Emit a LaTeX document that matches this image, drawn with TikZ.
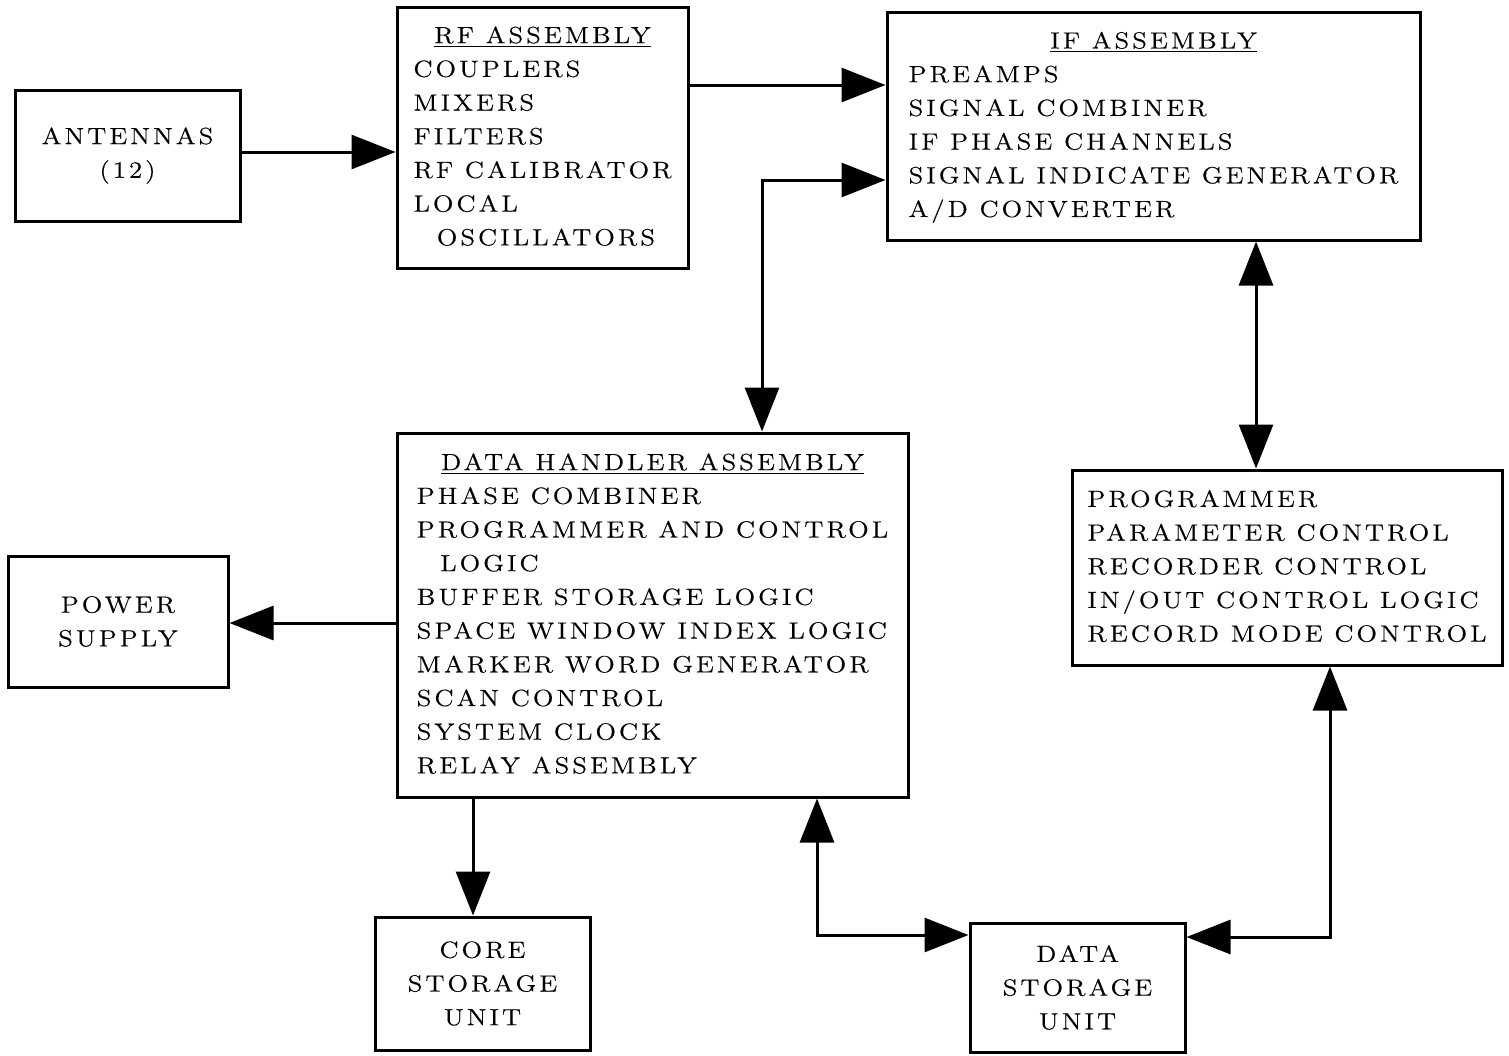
\documentclass[tikz,border=0pt]{standalone}
\usepackage{fontspec}
\setmainfont{Latin Modern Roman}[LetterSpace=13,FakeStretch=1.15,FakeBold=0.4]
\usetikzlibrary{arrows.meta}
% centred, underlined heading row of a block list
\newcommand{\blkhead}[1]{\multicolumn{1}{@{}c@{}}{\underline{#1}}}
\tikzset{
  blk/.style={draw, line width=1.5pt, align=center, inner sep=0pt,
    font=\fontsize{11.7}{16.85}\selectfont},
  arr/.style={line width=1.5pt, -{Triangle[length=22pt,width=17pt]}},
  dbl/.style={line width=1.5pt,
    {Triangle[length=22pt,width=17pt]}-{Triangle[length=22pt,width=17pt]}},
}
\begin{document}
\begin{tikzpicture}[x=0.5pt,y=-0.5pt]
\fill[white] (0,0) rectangle (1509,1055);
\useasboundingbox (0,0) rectangle (1509,1055);
% top row of blocks
\node[blk, minimum width=112.5pt, minimum height=65.5pt] (ant) at (127.5,155.5)
  {ANTENNAS\\(12)};
\node[blk, minimum width=145.5pt, minimum height=130.5pt] (rf) at (542.5,137.5)
  {\begin{tabular}{@{}l@{}}
   \blkhead{RF ASSEMBLY}\\
   COUPLERS\\ MIXERS\\ FILTERS\\ RF CALIBRATOR\\ LOCAL\\
   \hspace*{1em}OSCILLATORS
   \end{tabular}};
\node[blk, minimum width=266.5pt, minimum height=114pt] (if) at (1153.5,126)
  {\begin{tabular}{@{}l@{}}
   \blkhead{IF ASSEMBLY}\\
   PREAMPS\\ SIGNAL COMBINER\\ IF PHASE CHANNELS\\
   SIGNAL INDICATE GENERATOR\\ A/D CONVERTER
   \end{tabular}};
% middle row of blocks
\node[blk, minimum width=110pt, minimum height=65.5pt] (pwr) at (118,621.5)
  {POWER\\SUPPLY};
\node[blk, minimum width=255.5pt, minimum height=182pt] (dh) at (652.5,615)
  {\begin{tabular}{@{}l@{}}
   \blkhead{DATA HANDLER ASSEMBLY}\\
   PHASE COMBINER\\ PROGRAMMER AND CONTROL\\ \hspace*{1em}LOGIC\\
   BUFFER STORAGE LOGIC\\ SPACE WINDOW INDEX LOGIC\\
   MARKER WORD GENERATOR\\ SCAN CONTROL\\ SYSTEM CLOCK\\ RELAY ASSEMBLY
   \end{tabular}};
\node[blk, minimum width=215pt, minimum height=97.5pt] (prog) at (1287,567.5)
  {\begin{tabular}{@{}l@{}}
   PROGRAMMER\\ PARAMETER CONTROL\\ RECORDER CONTROL\\
   IN/OUT CONTROL LOGIC\\ RECORD MODE CONTROL
   \end{tabular}};
% bottom row of blocks
\node[blk, minimum width=107.5pt, minimum height=66.5pt] (core) at (482.5,983.5)
  {CORE\\STORAGE\\UNIT};
\node[blk, minimum width=107.5pt, minimum height=64.5pt] (dsu) at (1077.5,987.5)
  {DATA\\STORAGE\\UNIT};
% connectors
\draw[arr] (ant.east |- 0,152) -- (rf.west |- 0,152);
\draw[arr] (rf.east |- 0,85) -- (if.west |- 0,85);
\draw[dbl] (dh.north -| 762,0) |- (if.west |- 0,180);
\draw[dbl] (if.south -| 1256,0) -- (prog.north -| 1256,0);
\draw[arr] (dh.west |- 0,623) -- (pwr.east |- 0,623);
\draw[arr] (dh.south -| 473,0) -- (core.north -| 473,0);
\draw[dbl] (dh.south -| 817,0) |- (dsu.west |- 0,935);
\draw[dbl] (prog.south -| 1330,0) |- (dsu.east |- 0,937);
\end{tikzpicture}
\end{document}
